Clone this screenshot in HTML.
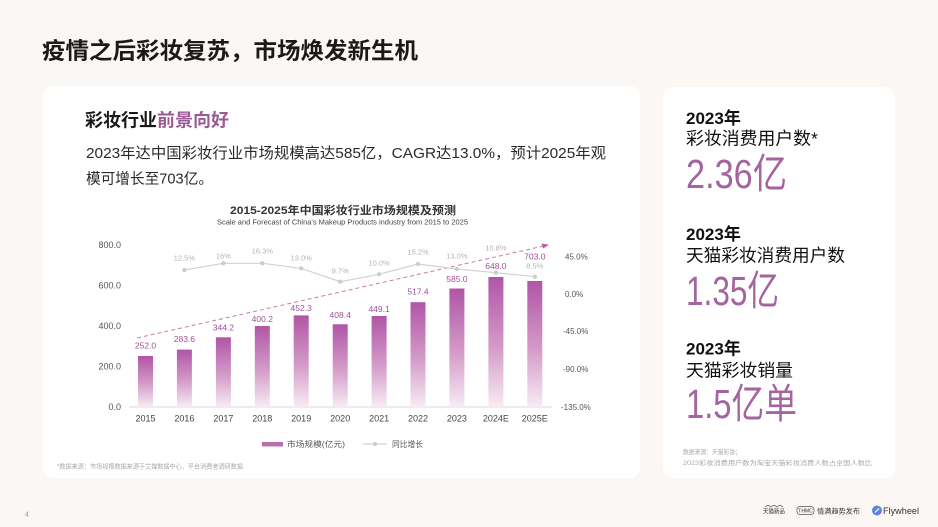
<!DOCTYPE html>
<html><head><meta charset="utf-8"><style>
html,body{margin:0;padding:0;background:#fbf7f4;}
svg{display:block;}
</style></head><body>
<svg width="938" height="527" viewBox="0 0 938 527" xmlns="http://www.w3.org/2000/svg" font-family="'Liberation Sans','Noto Sans CJK SC',sans-serif">
<defs>
<linearGradient id="bg" x1="0" y1="0" x2="0" y2="1">
<stop offset="0" stop-color="#b055a6"/>
<stop offset="0.55" stop-color="#d59cc9"/>
<stop offset="1" stop-color="#f6ecf4"/>
</linearGradient>
</defs>
<rect width="938" height="527" fill="#fbf7f4"/>
<!-- title -->
<text x="42" y="58.5" font-size="23" font-weight="700" fill="#1a1a1a" textLength="376" lengthAdjust="spacingAndGlyphs">疫情之后彩妆复苏，市场焕发新生机</text>
<!-- panels -->
<rect x="43" y="86" width="597" height="392" rx="10" fill="#ffffff"/>
<rect x="663" y="87" width="232" height="391" rx="10" fill="#ffffff"/>
<!-- left panel header -->
<text x="85" y="126.5" font-size="18" font-weight="700" fill="#1a1a1a">彩妆行业<tspan fill="#9a5a98">前景向好</tspan></text>
<text x="86" y="158.2" font-size="15" fill="#2a2a2a" textLength="520" lengthAdjust="spacingAndGlyphs">2023年达中国彩妆行业市场规模高达585亿，CAGR达13.0%，预计2025年观</text>
<text x="86" y="183.7" font-size="15" fill="#2a2a2a" textLength="127" lengthAdjust="spacingAndGlyphs">模可增长至703亿。</text>
<!-- chart title -->
<text x="343" y="214" font-size="11" font-weight="700" fill="#333" text-anchor="middle" textLength="226" lengthAdjust="spacingAndGlyphs">2015-2025年中国彩妆行业市场规模及预测</text>
<text x="342.5" y="224.5" font-size="7" fill="#444" text-anchor="middle" textLength="251" lengthAdjust="spacingAndGlyphs">Scale and Forecast of China's Makeup Products industry from 2015 to 2025</text>
<!-- left axis labels -->
<g font-size="9" fill="#555" text-anchor="end">
<text x="121" y="248">800.0</text>
<text x="121" y="288.5">600.0</text>
<text x="121" y="329">400.0</text>
<text x="121" y="369.5">200.0</text>
<text x="121" y="410">0.0</text>
</g>
<!-- right axis labels -->
<g font-size="8" fill="#555">
<text x="565" y="259.5">45.0%</text>
<text x="565" y="297">0.0%</text>
<text x="563" y="334">-45.0%</text>
<text x="563" y="372">-90.0%</text>
<text x="561" y="410">-135.0%</text>
</g>
<!-- axis -->
<line x1="129" y1="407" x2="552" y2="407" stroke="#d9d9d9" stroke-width="1"/>
<!-- bars -->
<g fill="url(#bg)">
<rect x="138" y="356" width="15" height="51"/>
<rect x="176.9" y="349.6" width="15" height="57.4"/>
<rect x="215.9" y="337.3" width="15" height="69.7"/>
<rect x="254.8" y="326" width="15" height="81"/>
<rect x="293.7" y="315.4" width="15" height="91.6"/>
<rect x="332.7" y="324.3" width="15" height="82.7"/>
<rect x="371.6" y="316" width="15" height="91"/>
<rect x="410.5" y="302.2" width="15" height="104.8"/>
<rect x="449.4" y="288.5" width="15" height="118.5"/>
<rect x="488.4" y="277" width="15" height="130"/>
<rect x="527.3" y="281" width="15" height="126"/>
</g>
<!-- value labels -->
<g font-size="8.5" fill="#a0509a" text-anchor="middle">
<text x="145.5" y="348.7">252.0</text>
<text x="184.4" y="342">283.6</text>
<text x="223.4" y="330.7">344.2</text>
<text x="262.3" y="322">400.2</text>
<text x="301.2" y="311">452.3</text>
<text x="340.2" y="318">408.4</text>
<text x="379.1" y="312">449.1</text>
<text x="418" y="294.7">517.4</text>
<text x="456.9" y="282">585.0</text>
<text x="495.9" y="269">648.0</text>
<text x="534.8" y="259.7">703.0</text>
</g>
<!-- x labels -->
<g font-size="9" fill="#444" text-anchor="middle">
<text x="145.5" y="421.5">2015</text>
<text x="184.4" y="421.5">2016</text>
<text x="223.4" y="421.5">2017</text>
<text x="262.3" y="421.5">2018</text>
<text x="301.2" y="421.5">2019</text>
<text x="340.2" y="421.5">2020</text>
<text x="379.1" y="421.5">2021</text>
<text x="418" y="421.5">2022</text>
<text x="456.9" y="421.5">2023</text>
<text x="495.9" y="421.5">2024E</text>
<text x="534.8" y="421.5">2025E</text>
</g>
<!-- dashed trend arrow -->
<line x1="137" y1="338" x2="545" y2="245.7" stroke="#c77bb0" stroke-width="1" stroke-dasharray="4 3"/>
<polygon points="549,244.8 541.5,243.5 543,248.5" fill="#b85aa5"/>
<!-- growth line -->
<polyline points="184.4,270 223.4,263.3 262.3,263.3 301.2,268.3 340.2,281.7 379.1,274.3 418,264 456.9,269 495.9,272.7 534.8,276.7" fill="none" stroke="#d2d2d2" stroke-width="1.2"/>
<g fill="#c9cfc9">
<circle cx="184.4" cy="270" r="2.2"/>
<circle cx="223.4" cy="263.3" r="2.2"/>
<circle cx="262.3" cy="263.3" r="2.2"/>
<circle cx="301.2" cy="268.3" r="2.2"/>
<circle cx="340.2" cy="281.7" r="2.2"/>
<circle cx="379.1" cy="274.3" r="2.2"/>
<circle cx="418" cy="264" r="2.2"/>
<circle cx="456.9" cy="269" r="2.2"/>
<circle cx="495.9" cy="272.7" r="2.2"/>
<circle cx="534.8" cy="276.7" r="2.2"/>
</g>
<g font-size="7.5" fill="#b3b3b3" text-anchor="middle">
<text x="184.4" y="260.4">12.5%</text>
<text x="223.4" y="258.7">16%</text>
<text x="262.3" y="253.7">16.3%</text>
<text x="301.2" y="260.4">13.0%</text>
<text x="340.2" y="273.7">9.7%</text>
<text x="379.1" y="265.7">10.0%</text>
<text x="418" y="254.4">15.2%</text>
<text x="456.9" y="258.7">13.0%</text>
<text x="495.9" y="250.7">10.8%</text>
<text x="534.8" y="268.4">8.5%</text>
</g>
<!-- legend -->
<rect x="262" y="442" width="21" height="4.5" fill="#b870ad"/>
<text x="287" y="447" font-size="8" fill="#555" textLength="58" lengthAdjust="spacingAndGlyphs">市场规模(亿元)</text>
<line x1="363" y1="444" x2="387" y2="444" stroke="#d2d2d2" stroke-width="1.2"/>
<circle cx="375" cy="444" r="2" fill="#c9cfc9"/>
<text x="392" y="447" font-size="8" fill="#555" textLength="31" lengthAdjust="spacingAndGlyphs">同比增长</text>
<!-- footnote -->
<text x="57" y="468.5" font-size="6.5" fill="#aaaaaa" textLength="186" lengthAdjust="spacingAndGlyphs">*数据来源：市场规模数据来源于艾媒数据中心，平台消费者调研数据</text>
<!-- page number -->
<text x="25" y="516.5" font-size="7" fill="#999">4</text>
<!-- right panel -->
<text x="686" y="124" font-size="17" font-weight="700" fill="#111">2023年</text>
<text x="686" y="144.6" font-size="17.5" fill="#111" textLength="132" lengthAdjust="spacingAndGlyphs">彩妆消费用户数*</text>
<text x="686" y="188" font-size="41" fill="#a4649f" textLength="101" lengthAdjust="spacingAndGlyphs">2.36亿</text>
<text x="686" y="240" font-size="17" font-weight="700" fill="#111">2023年</text>
<text x="686" y="261.5" font-size="17.5" fill="#111" textLength="159" lengthAdjust="spacingAndGlyphs">天猫彩妆消费用户数</text>
<text x="686" y="305" font-size="41" fill="#a4649f" textLength="93" lengthAdjust="spacingAndGlyphs">1.35亿</text>
<text x="686" y="354.5" font-size="17" font-weight="700" fill="#111">2023年</text>
<text x="686" y="376.5" font-size="17.5" fill="#111" textLength="107" lengthAdjust="spacingAndGlyphs">天猫彩妆销量</text>
<text x="686" y="418" font-size="41" fill="#a4649f" textLength="111" lengthAdjust="spacingAndGlyphs">1.5亿单</text>
<text x="683" y="454" font-size="6.5" fill="#aaaaaa" textLength="58" lengthAdjust="spacingAndGlyphs">数据来源：天猫彩妆；</text>
<text x="683" y="465" font-size="6.5" fill="#aaaaaa" textLength="189" lengthAdjust="spacingAndGlyphs">2023彩妆消费用户数为淘宝天猫彩妆消费人数占全国人数比</text>
<!-- logos -->
<text x="763" y="513.5" font-size="6" fill="#333" textLength="22" lengthAdjust="spacingAndGlyphs">天猫新品</text>
<path d="M765,507 q3,-3 6,0 q3,-3 6,0 q3,-3 6,0" fill="none" stroke="#555" stroke-width="0.6"/>
<rect x="797" y="506.5" width="17" height="8" rx="3" fill="none" stroke="#555" stroke-width="0.7"/>
<text x="805.5" y="512.5" font-size="5" fill="#333" text-anchor="middle">THMC</text>
<text x="817" y="513.5" font-size="7" fill="#333" textLength="43" lengthAdjust="spacingAndGlyphs">情满趋势发布</text>
<circle cx="877" cy="510.5" r="5" fill="#5f84e0"/>
<path d="M875,512.5 l4,-4" stroke="#fff" stroke-width="1.2"/>
<text x="883" y="514" font-size="9.5" fill="#333" textLength="36" lengthAdjust="spacingAndGlyphs">Flywheel</text>
</svg>
</body></html>
